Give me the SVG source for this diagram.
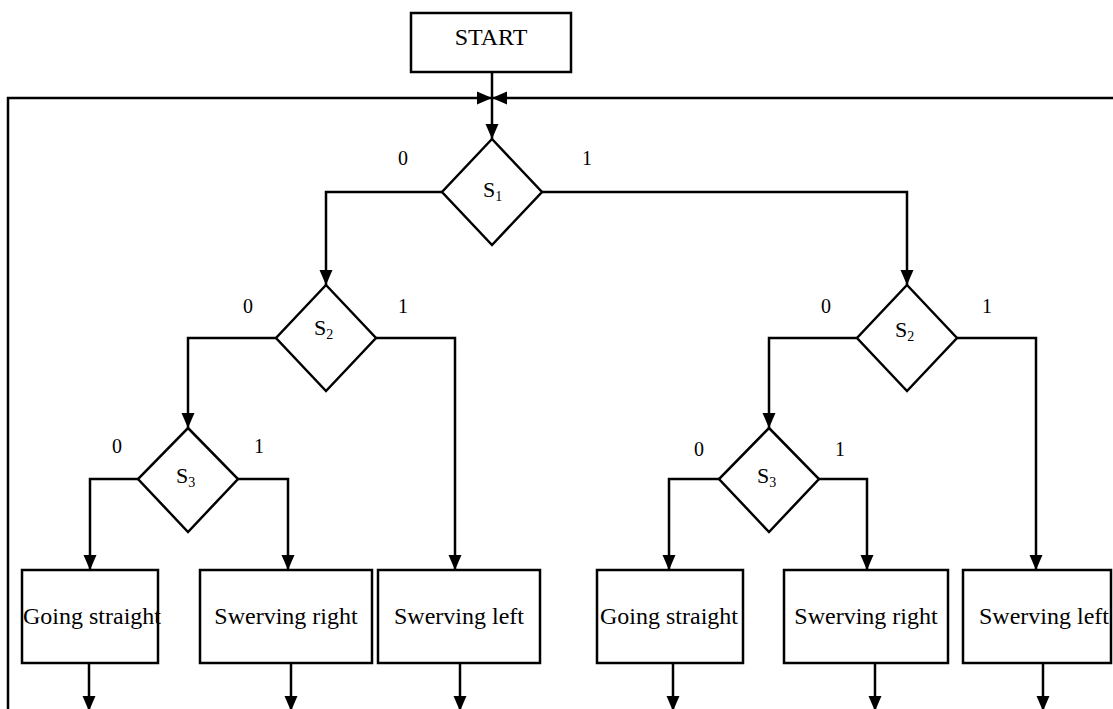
<svg xmlns="http://www.w3.org/2000/svg" width="1113" height="709" viewBox="0 0 1113 709">
<style>
.box{fill:#fff;stroke:#000;stroke-width:2.5}
.dia{fill:#fff;stroke:#000;stroke-width:2.5;stroke-linejoin:miter}
.ln{fill:none;stroke:#000;stroke-width:2.5}
.arr{fill:none;stroke:#000;stroke-width:2.5;marker-end:url(#ah)}
.t{font-family:"Liberation Serif","Times New Roman",serif;font-size:24px;fill:#000;text-anchor:middle}
.s{font-family:"Liberation Serif","Times New Roman",serif;font-size:22px;fill:#000}
.lb{font-family:"Liberation Serif","Times New Roman",serif;font-size:20px;fill:#000;text-anchor:middle}
</style>
<defs>
<marker id="ah" markerUnits="userSpaceOnUse" markerWidth="15" markerHeight="14" refX="15" refY="7" orient="auto">
<path d="M0,0.5 L15,7 L0,13.5 z" fill="#000"/>
</marker>
</defs>
<rect width="1113" height="709" fill="#fff"/>
<g id="connectors">
<path class="arr" d="M8,712 L8,98 L492,98"/>
<path class="arr" d="M1116,98 L492,98"/>
<path class="arr" d="M492,72 L492,139"/>
<path class="arr" d="M442,192 L326,192 L326,285"/>
<path class="arr" d="M542,192 L907,192 L907,285"/>
<path class="arr" d="M276,338 L188,338 L188,428"/>
<path class="arr" d="M376,338 L455,338 L455,570"/>
<path class="arr" d="M138,479 L90,479 L90,570"/>
<path class="arr" d="M238,479 L288,479 L288,570"/>
<path class="arr" d="M857,338 L769,338 L769,428"/>
<path class="arr" d="M957,338 L1036,338 L1036,570"/>
<path class="arr" d="M719,479 L669,479 L669,570"/>
<path class="arr" d="M819,479 L867,479 L867,570"/>
<path class="arr" d="M89,663 L89,711"/>
<path class="arr" d="M291,663 L291,711"/>
<path class="arr" d="M460,663 L460,711"/>
<path class="arr" d="M673,663 L673,711"/>
<path class="arr" d="M875,663 L875,711"/>
<path class="arr" d="M1043,663 L1043,711"/>
<text class="lb" x="403" y="165">0</text>
<text class="lb" x="587" y="165">1</text>
<text class="lb" x="248" y="313">0</text>
<text class="lb" x="403" y="313">1</text>
<text class="lb" x="826" y="313">0</text>
<text class="lb" x="987" y="313">1</text>
<text class="lb" x="117" y="453">0</text>
<text class="lb" x="259" y="453">1</text>
<text class="lb" x="699" y="456">0</text>
<text class="lb" x="840" y="456">1</text>
</g>
<g id="start">
<rect class="box" x="411" y="13" width="160" height="59"/>
<text class="t" x="491" y="45">START</text>
</g>
<g id="s1">
<polygon class="dia" points="492,139 542,192 492,245 442,192"/>
<text class="s" x="483" y="197">S<tspan font-size="14" dy="4">1</tspan></text>
</g>
<g id="s2-left">
<polygon class="dia" points="326,285 376,338 326,391 276,338"/>
<text class="s" x="314" y="335">S<tspan font-size="14" dy="4">2</tspan></text>
</g>
<g id="s2-right">
<polygon class="dia" points="907,285 957,338 907,391 857,338"/>
<text class="s" x="895" y="337">S<tspan font-size="14" dy="4">2</tspan></text>
</g>
<g id="s3-left">
<polygon class="dia" points="188,428 238,479 188,532 138,479"/>
<text class="s" x="176" y="483">S<tspan font-size="14" dy="4">3</tspan></text>
</g>
<g id="s3-right">
<polygon class="dia" points="769,428 819,479 769,532 719,479"/>
<text class="s" x="757" y="483">S<tspan font-size="14" dy="4">3</tspan></text>
</g>
<g id="going-straight-left">
<rect class="box" x="22" y="570" width="136" height="93"/>
<text class="t" x="92" y="624">Going straight</text>
</g>
<g id="swerving-right-left">
<rect class="box" x="200" y="570" width="172" height="93"/>
<text class="t" x="286" y="624">Swerving right</text>
</g>
<g id="swerving-left-left">
<rect class="box" x="378" y="570" width="162" height="93"/>
<text class="t" x="459" y="624">Swerving left</text>
</g>
<g id="going-straight-right">
<rect class="box" x="597" y="570" width="146" height="93"/>
<text class="t" x="669" y="624">Going straight</text>
</g>
<g id="swerving-right-right">
<rect class="box" x="784" y="570" width="164" height="93"/>
<text class="t" x="866" y="624">Swerving right</text>
</g>
<g id="swerving-left-right">
<rect class="box" x="963" y="570" width="148" height="93"/>
<text class="t" x="1044" y="624">Swerving left</text>
</g>
</svg>
